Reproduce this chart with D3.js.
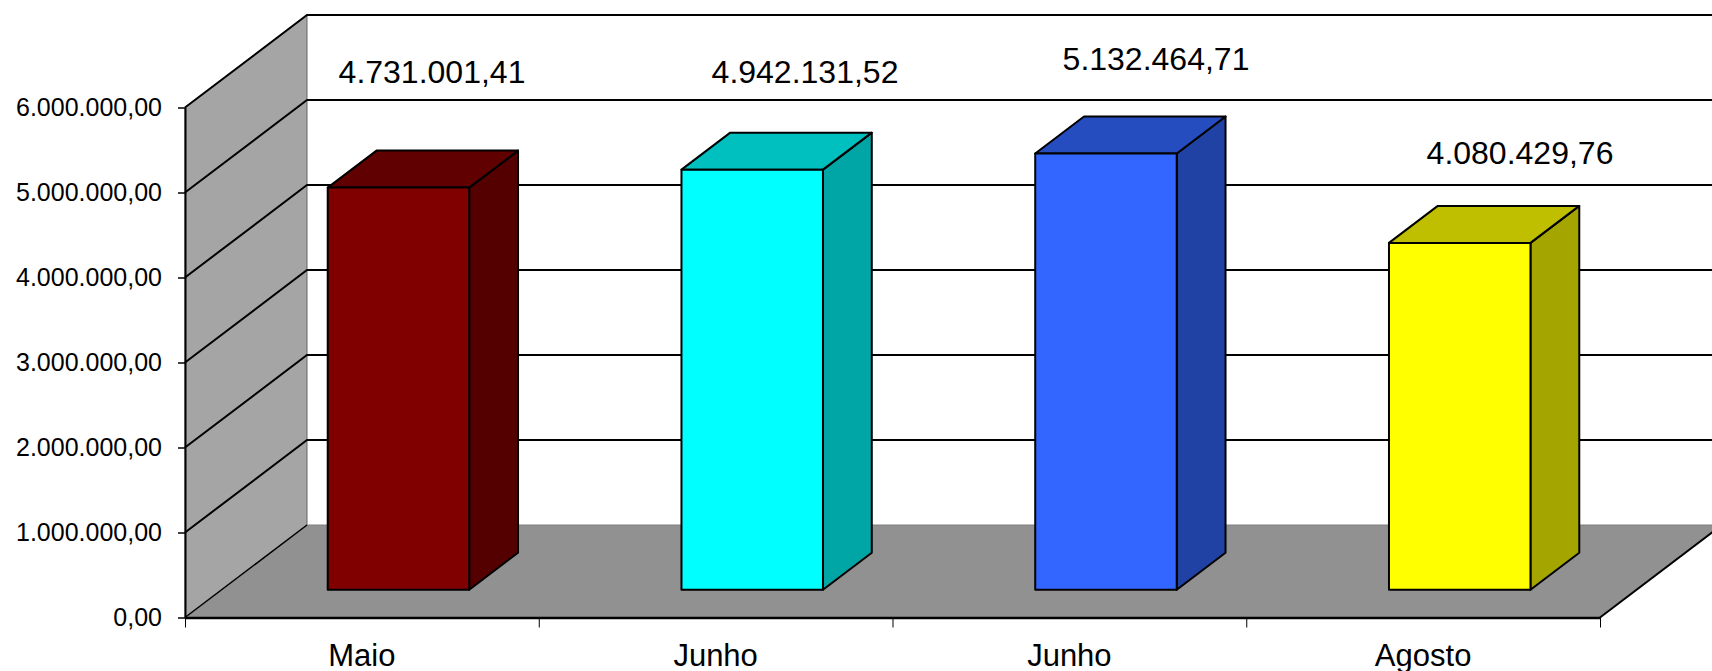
<!DOCTYPE html>
<html>
<head>
<meta charset="utf-8">
<script src="https://cdn.jsdelivr.net/npm/d3@7/dist/d3.min.js"></script>
<style>
html, body { margin: 0; padding: 0; background: #fff; overflow: hidden; }
svg { display: block; }
text { font-family: "Liberation Sans", Arial, sans-serif; fill: #000; }
</style>
</head>
<body>
<script>
// Chart values
var categories = ["Maio", "Junho", "Junho", "Agosto"];
var values = [4731001.41, 4942131.52, 5132464.71, 4080429.76];
var yTicks = [0, 1000000, 2000000, 3000000, 4000000, 5000000, 6000000];

// Face colours of each bar
var frontColors = ["#800000", "#00ffff", "#3366ff", "#ffff00"];
var topColors = ["#600000", "#00bfbf", "#264dbf", "#bfbf00"];
var sideColors = ["#550000", "#00a5a5", "#2142a5", "#a5a500"];

// Labels were placed by hand in the original, so they don't follow the bars
var labelX = [432, 805, 1156, 1520];
var labelY = [83, 83, 70, 164];

var width = 1712, height = 671;
var depthX = 122, depthY = -92.5;  // wall-to-front offset of the 3D box

var x = d3.scaleLinear().domain([0, categories.length]).range([185, 1600]);
var y = d3.scaleLinear().domain([0, 6000000]).range([617.5, 107.5]);

// Point on the front plane pushed back by depth (0 = front, 1 = back wall)
function project(i, v, depth) {
    return [x(i) + depth * depthX, y(v) + depth * depthY];
}

function poly(points) {
    return points.map(function(p) { return p.join(","); }).join(" ");
}

var svg = d3.select("body").append("svg")
    .attr("width", width)
    .attr("height", height);

svg.append("defs").append("clipPath")
    .attr("id", "page")
    .append("rect")
    .attr("width", width)
    .attr("height", height);

var box = svg.append("g").attr("clip-path", "url(#page)");
var n = categories.length;

// Side wall
box.append("polygon")
    .attr("points", poly([project(0, 0, 0), project(0, 0, 1), project(0, 6000000, 1), project(0, 6000000, 0)]))
    .style("fill", "#a5a5a5")
    .style("stroke", "#666")
    .style("stroke-width", 1);

// Floor
box.append("polygon")
    .attr("points", poly([project(0, 0, 0), project(0, 0, 1), project(n, 0, 1), project(n, 0, 0)]))
    .style("fill", "#919191");

box.append("line")
    .attr("x1", project(0, 0, 1)[0])
    .attr("y1", project(0, 0, 1)[1])
    .attr("x2", width)
    .attr("y2", project(0, 0, 1)[1])
    .style("stroke", "#808080")
    .style("stroke-width", 1);

// Grid lines, running along the wall then across the back
box.selectAll(".grid")
    .data(yTicks.slice(1))
    .enter()
    .append("polyline")
    .attr("class", "grid")
    .attr("points", function(d) {
        return poly([project(0, d, 0), project(0, d, 1), project(n, d, 1)]);
    })
    .style("fill", "none")
    .style("stroke", "#000")
    .style("stroke-width", 2);

// Floor edges
box.append("line")
    .attr("x1", project(0, 0, 0)[0])
    .attr("y1", project(0, 0, 0)[1])
    .attr("x2", project(0, 0, 1)[0])
    .attr("y2", project(0, 0, 1)[1])
    .style("stroke", "#000")
    .style("stroke-width", 1.5);

box.append("line")
    .attr("x1", project(n, 0, 0)[0])
    .attr("y1", project(n, 0, 0)[1])
    .attr("x2", project(n, 0, 1)[0])
    .attr("y2", project(n, 0, 1)[1])
    .style("stroke", "#000")
    .style("stroke-width", 2);

// Bars take the middle 40% of each category, in width and in depth
var barStart = 0.3, barEnd = 0.7;

var bars = box.selectAll(".bar")
    .data(values)
    .enter()
    .append("g")
    .attr("class", "bar")
    .style("stroke", "#000")
    .style("stroke-width", 2)
    .style("stroke-linejoin", "round");

bars.append("polygon")
    .attr("points", function(d, i) {
        return poly([
            project(i + barEnd, 0, barStart),
            project(i + barEnd, 0, barEnd),
            project(i + barEnd, d, barEnd),
            project(i + barEnd, d, barStart)
        ]);
    })
    .style("fill", function(d, i) { return sideColors[i]; });

bars.append("polygon")
    .attr("points", function(d, i) {
        return poly([
            project(i + barStart, d, barStart),
            project(i + barStart, d, barEnd),
            project(i + barEnd, d, barEnd),
            project(i + barEnd, d, barStart)
        ]);
    })
    .style("fill", function(d, i) { return topColors[i]; });

bars.append("polygon")
    .attr("points", function(d, i) {
        return poly([
            project(i + barStart, 0, barStart),
            project(i + barEnd, 0, barStart),
            project(i + barEnd, d, barStart),
            project(i + barStart, d, barStart)
        ]);
    })
    .style("fill", function(d, i) { return frontColors[i]; });

// Axes
var ptBr = d3.formatLocale({ decimal: ",", thousands: ".", grouping: [3], currency: ["R$", ""] });
var money = ptBr.format(",.2f");

var yAxis = svg.append("g")
    .attr("transform", "translate(" + x(0) + ",0)")
    .call(d3.axisLeft(y).tickValues(yTicks).tickFormat(money).tickSize(7).tickSizeOuter(0));

yAxis.select(".domain").style("stroke-width", 2);
yAxis.selectAll(".tick line").style("stroke-width", 1.5);
yAxis.selectAll("text").attr("x", -23).style("font-size", "25px").style("font-family", null);

var xAxis = svg.append("g")
    .attr("transform", "translate(0," + y(0) + ")")
    .call(d3.axisBottom(x).tickValues(d3.range(n + 1)).tickFormat("").tickSize(10).tickSizeOuter(0));

xAxis.select(".domain").style("stroke-width", 2.5);
xAxis.selectAll(".tick line").style("stroke-width", 1);

// Category names sit between the ticks
svg.selectAll(".category")
    .data(categories)
    .enter()
    .append("text")
    .attr("class", "category")
    .attr("x", function(d, i) { return x(i + 0.5); })
    .attr("y", 666)
    .attr("text-anchor", "middle")
    .style("font-size", "31px")
    .text(function(d) { return d; });

svg.selectAll(".value-label")
    .data(values)
    .enter()
    .append("text")
    .attr("class", "value-label")
    .attr("x", function(d, i) { return labelX[i]; })
    .attr("y", function(d, i) { return labelY[i]; })
    .attr("text-anchor", "middle")
    .style("font-size", "32px")
    .text(function(d) { return money(d); });
</script>
</body>
</html>
